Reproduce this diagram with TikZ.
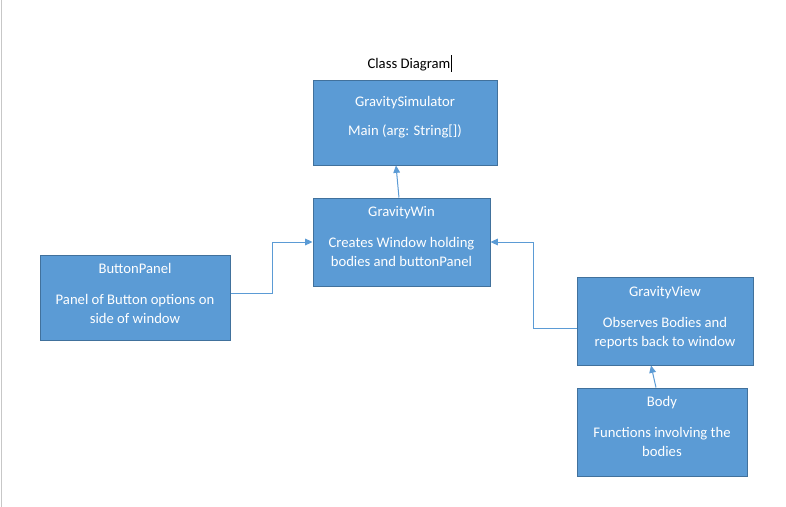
\documentclass[tikz,border=0pt]{standalone}
\usepackage{fontspec}
\setmainfont{Carlito}
\usetikzlibrary{arrows.meta, positioning, calc}

\definecolor{officeblue}{HTML}{5B9BD5}
\definecolor{officeedge}{HTML}{41719C}

\begin{document}
\begin{tikzpicture}[x=0.75pt, y=-0.75pt, font=\fontsize{11}{13.75}\selectfont]
  \tikzstyle{box}=[draw=officeedge, fill=officeblue, line width=0.75pt, inner sep=0pt]
  \tikzstyle{boxtext}=[text=white, align=center, anchor=north, inner sep=0pt]
  \tikzstyle{link}=[draw=officeblue, line width=0.75pt, -{Triangle[length=5.5pt, width=5pt]}]

  \useasboundingbox[fill=white] (0,0) rectangle (786,507);
  \draw[draw=black!22, line width=0.9pt] (1.5,0) -- (1.5,507);

  % title
  \node[anchor=base, inner sep=0pt] (title) at (409,68) {Class Diagram};
  \draw[line width=0.75pt] (451.5,55) -- (451.5,72);

  % boxes
  \node[box, minimum width=138pt, minimum height=63.75pt] (sim) at (405,122.5) {};
  \node[box, minimum width=132.75pt, minimum height=66pt] (win) at (401.5,242) {};
  \node[box, minimum width=142.5pt, minimum height=63.75pt] (bp) at (135,297.5) {};
  \node[box, minimum width=132pt, minimum height=66pt] (view) at (665,321) {};
  \node[box, minimum width=127.5pt, minimum height=66pt] (body) at (662,432) {};

  % texts
  \node[boxtext] (sim_t) at (405,96.5) {GravitySimulator\\[8pt]Main (arg: String[])};
  \node[boxtext] (win_t) at (401.5,206.5) {GravityWin\\[9.5pt]Creates Window holding\\bodies and buttonPanel};
  \node[boxtext] (bp_t) at (135,263.5) {ButtonPanel\\[9.5pt]Panel of Button options on\\side of window};
  \node[boxtext] (view_t) at (665,286.5) {GravityView\\[9.5pt]Observes Bodies and\\reports back to window};
  \node[boxtext] (body_t) at (662,396.5) {Body\\[9.5pt]Functions involving the\\bodies};

  % arrows
  \draw[link] ([xshift=-1.9pt]win.north) -- ([xshift=-6.75pt]sim.south);
  \draw[link] ([yshift=3pt]bp.east) -- ++(42,0) |- (win.west);
  \draw[link] ([yshift=-5.25pt]view.west) -- ++(-43,0) |- (win.east);
  \draw[link] ([xshift=-4.5pt]body.north) -- ([xshift=-10.5pt]view.south);

\end{tikzpicture}
\end{document}
